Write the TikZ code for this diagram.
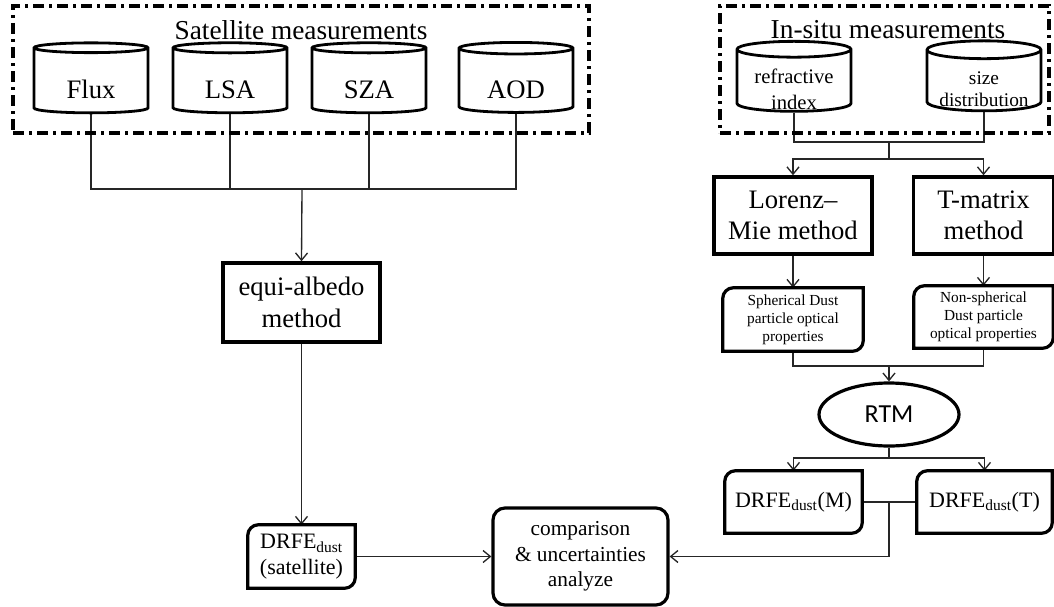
\documentclass[tikz,border=0pt]{standalone}
\usepackage{fontspec}
\setmainfont{Liberation Serif}
\newfontfamily\rtmfont{Carlito}
\usepackage{tikz}
\usetikzlibrary{arrows.meta,shapes.geometric}
\pgfdeclarelayer{edgelayer}
\pgfdeclarelayer{nodelayer}
\pgfsetlayers{edgelayer,nodelayer,main}
\newcommand{\instore}[1]{\raisebox{2pt}[0pt][0pt]{\begin{tabular}{@{}c@{}}#1\end{tabular}}}
\tikzstyle{none}=[inner sep=0pt]
\tikzstyle{group}=[draw, line width=2.7pt, dash pattern=on 8pt off 4pt on 2pt off 4pt, inner sep=0pt, minimum height=95.25pt]
\tikzstyle{title}=[inner sep=0pt, font=\fontsize{20.5}{24}\selectfont]
\tikzstyle{store}=[cylinder, shape border rotate=90, aspect=0.2, draw, line width=2.1pt, inner sep=0pt, minimum width=85.5pt, minimum height=52.5pt, align=center, font=\fontsize{20}{24}\selectfont, execute at begin node={\rule{0pt}{26pt}}]
\tikzstyle{smallstore}=[font=\fontsize{15.5}{19.5}\selectfont, execute at begin node={}]
\tikzstyle{method}=[rectangle, draw, line width=2.6pt, inner sep=0pt, align=center, font=\fontsize{20}{23.5}\selectfont]
\tikzstyle{result}=[rectangle, inner sep=0pt, align=center, font=\fontsize{16.5}{19}\selectfont]
\tikzstyle{optic}=[rectangle, inner sep=0pt, align=center, font=\fontsize{11.5}{13.5}\selectfont]
\tikzstyle{edgebox}=[line width=2.4pt]
\tikzstyle{wire}=[-, line width=1pt, draw=black!85]
\tikzstyle{arrow}=[-{Straight Barb[length=5.5pt,width=9pt]}, line width=1pt, draw=black!85]

\begin{document}
\begin{tikzpicture}[x=0.75pt, y=-0.75pt]
	\useasboundingbox (0,0) rectangle (1054,607);
	\begin{pgfonlayer}{nodelayer}
		% satellite side
		\node [style=group, minimum width=432pt] (satgroup) at (301, 69.5) {};
		\node [style=title] (sattitle) at (301, 30) {Satellite measurements};
		\node [style=store] (flux) at (91, 81) {Flux};
		\node [style=store] (lsa) at (230, 81) {LSA};
		\node [style=store] (sza) at (369, 81) {SZA};
		\node [style=store] (aod) at (516, 81) {AOD};
		\node [style=method, minimum width=117.75pt, minimum height=59.25pt] (equi) at (301.5, 302.5) {equi-albedo\\method};
		\node [style=result, minimum width=80.25pt, minimum height=47.25pt] (drfesat) at (301.5, 556.5) {DRFE\textsubscript{dust}\\(satellite)};

		% in-situ side
		\node [style=group, minimum width=246.75pt] (insitugroup) at (884.5, 69.5) {};
		\node [style=title] (insitutitle) at (888, 30) {In-situ measurements};
		\node [style=store, style=smallstore] (refr) at (794, 81) {\instore{refractive\\index}};
		\node [style=store, style=smallstore, font=\fontsize{14.5}{16.5}\selectfont] (sized) at (984, 81) {\instore{size\\distribution}};
		\node [style=method, minimum width=118.5pt, minimum height=57.75pt] (lorenz) at (793, 215.5) {Lorenz--\\Mie method};
		\node [style=method, minimum width=105pt, minimum height=57.75pt] (tmat) at (983.5, 215.5) {T-matrix\\method};
		\node [style=optic, minimum width=105pt, minimum height=47.25pt] (sph) at (793, 319.5) {Spherical Dust\\particle optical\\properties};
		\node [style=optic, minimum width=104.25pt, minimum height=46.5pt] (nsph) at (983.5, 317) {Non-spherical\\Dust particle\\optical properties};
		\node [ellipse, draw, line width=2.4pt, inner sep=0pt, minimum width=105pt, minimum height=47.25pt, font=\rtmfont\fontsize{19.5}{22}\selectfont] (rtm) at (889, 414.5) {RTM};
		\node [style=result, minimum width=102.75pt, minimum height=46.5pt] (drfem) at (793.5, 502) {DRFE\textsubscript{dust}(M)};
		\node [style=result, minimum width=101.25pt, minimum height=46.5pt] (drfet) at (984.5, 502) {DRFE\textsubscript{dust}(T)};
		\node [rectangle, draw, line width=2.4pt, rounded corners=9pt, inner sep=0pt, align=center, minimum width=131.25pt, minimum height=72.75pt, font=\fontsize{16}{19}\selectfont] (comp) at (580.5, 556.5) {comparison\\\& uncertainties\\analyze};

		\coordinate (satbus) at (302, 189);
		\coordinate (insitubus) at (889, 142);
		\coordinate (methsplit) at (889, 159);
		\coordinate (rtmjoin) at (889, 366);
		\coordinate (rtmsplit) at (889, 458);
		\coordinate (drfejoin) at (889, 502);

		% boxes with two round corners
		\draw [style=edgebox] (drfesat.north) [sharp corners]-- (drfesat.north east) [rounded corners=8pt]-- (drfesat.south east) [sharp corners]-- (drfesat.south west) [rounded corners=8pt]-- (drfesat.north west) -- cycle;
		\draw [style=edgebox] (sph.north) [sharp corners]-- (sph.north east) [rounded corners=8pt]-- (sph.south east) [sharp corners]-- (sph.south west) [rounded corners=8pt]-- (sph.north west) -- cycle;
		\draw [style=edgebox] (nsph.north) [sharp corners]-- (nsph.north east) [rounded corners=8pt]-- (nsph.south east) [sharp corners]-- (nsph.south west) [rounded corners=8pt]-- (nsph.north west) -- cycle;
		\draw [style=edgebox] (drfem.north) [sharp corners]-- (drfem.north east) [rounded corners=8pt]-- (drfem.south east) [sharp corners]-- (drfem.south west) [rounded corners=8pt]-- (drfem.north west) -- cycle;
		\draw [style=edgebox] (drfet.north) [sharp corners]-- (drfet.north east) [rounded corners=8pt]-- (drfet.south east) [sharp corners]-- (drfet.south west) [rounded corners=8pt]-- (drfet.north west) -- cycle;
	\end{pgfonlayer}
	\begin{pgfonlayer}{edgelayer}
		\draw [style=wire] (flux.south) |- (satbus);
		\draw [style=wire] (lsa.south) |- (satbus);
		\draw [style=wire] (sza.south) |- (satbus);
		\draw [style=wire] (aod.south) |- (satbus);
		\draw [style=arrow] (satbus) -- (equi.north);
		\draw [style=arrow] (equi.south) -- (drfesat.north);
		\draw [style=arrow] (drfesat.east) -- (comp.west);

		\draw [style=wire] (refr.south) |- (insitubus);
		\draw [style=wire] (sized.south) |- (insitubus);
		\draw [style=wire] (insitubus) -- (methsplit);
		\draw [style=arrow] (methsplit) -| (lorenz.north);
		\draw [style=arrow] (methsplit) -| (tmat.north);
		\draw [style=arrow] (lorenz.south) -- (sph.north);
		\draw [style=arrow] (tmat.south) -- (nsph.north);
		\draw [style=wire] (sph.south) |- (rtmjoin);
		\draw [style=wire] (nsph.south) |- (rtmjoin);
		\draw [style=arrow] (rtmjoin) -- (rtm.north);
		\draw [style=wire] (rtm.south) -- (rtmsplit);
		\draw [style=arrow] (rtmsplit) -| (drfem.north);
		\draw [style=arrow] (rtmsplit) -| (drfet.north);
		\draw [style=wire] (drfem.east) -- (drfet.west);
		\draw [style=arrow] (drfejoin) |- (comp.east);
	\end{pgfonlayer}
\end{tikzpicture}
\end{document}
